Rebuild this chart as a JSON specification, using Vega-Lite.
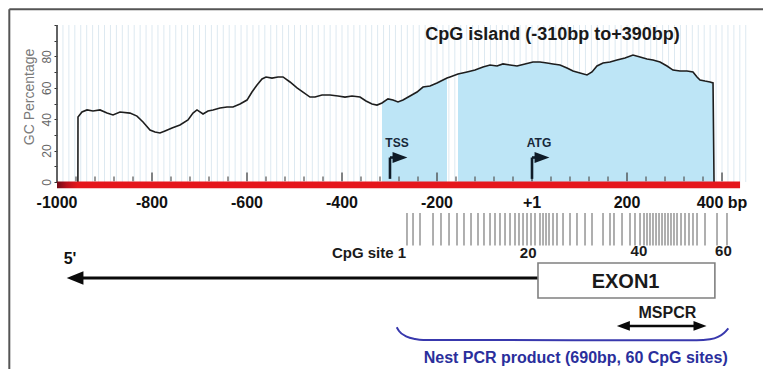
{
  "$schema": "https://vega.github.io/schema/vega-lite/v6.json",
  "width": 706,
  "height": 344,
  "autosize": {"type": "none"},
  "padding": {"left": 57, "top": 25, "right": 0, "bottom": 0},
  "background": "#ffffff",
  "config": {"view": {"stroke": null}, "font": "Liberation Sans"},
  "resolve": {"axis": {"x": "independent", "y": "independent"}},
  "datasets": {
    "gc": [
      {"bp": -956, "gc": 0}, {"bp": -955.8, "gc": 41.4}, {"bp": -947.4, "gc": 44.6}, {"bp": -936.8, "gc": 45.9}, {"bp": -924.2, "gc": 45.2},
      {"bp": -909.5, "gc": 45.9}, {"bp": -894.7, "gc": 43.9}, {"bp": -882.1, "gc": 42.7}, {"bp": -867.4, "gc": 44.6}, {"bp": -846.3, "gc": 43.9},
      {"bp": -831.6, "gc": 42.0}, {"bp": -818.9, "gc": 38.2}, {"bp": -804.2, "gc": 33.1}, {"bp": -793.7, "gc": 31.8}, {"bp": -783.2, "gc": 31.2},
      {"bp": -772.6, "gc": 32.5}, {"bp": -757.9, "gc": 34.4}, {"bp": -741.1, "gc": 36.3}, {"bp": -724.2, "gc": 39.5}, {"bp": -713.7, "gc": 43.9},
      {"bp": -705.3, "gc": 45.9}, {"bp": -692.6, "gc": 43.3}, {"bp": -682.1, "gc": 45.2}, {"bp": -671.6, "gc": 45.9}, {"bp": -656.8, "gc": 47.1},
      {"bp": -642.1, "gc": 47.8}, {"bp": -629.5, "gc": 47.8}, {"bp": -614.7, "gc": 49.7}, {"bp": -600, "gc": 52.2}, {"bp": -589.5, "gc": 57.3},
      {"bp": -578.9, "gc": 61.8}, {"bp": -568.4, "gc": 65.6}, {"bp": -560, "gc": 66.9}, {"bp": -547.4, "gc": 66.2}, {"bp": -534.7, "gc": 66.9},
      {"bp": -524.2, "gc": 66.9}, {"bp": -509.5, "gc": 63.7}, {"bp": -494.7, "gc": 59.9}, {"bp": -482.1, "gc": 57.3}, {"bp": -467.4, "gc": 54.1},
      {"bp": -456.8, "gc": 54.1}, {"bp": -442.1, "gc": 55.4}, {"bp": -425.3, "gc": 55.4}, {"bp": -408.4, "gc": 54.8}, {"bp": -393.7, "gc": 54.1},
      {"bp": -378.9, "gc": 54.8}, {"bp": -362.1, "gc": 54.1}, {"bp": -349.5, "gc": 51.6}, {"bp": -336.8, "gc": 49.7}, {"bp": -326.3, "gc": 49.0},
      {"bp": -315.8, "gc": 50.3}, {"bp": -303.2, "gc": 52.9}, {"bp": -292.6, "gc": 52.2}, {"bp": -282.1, "gc": 51.0}, {"bp": -271.6, "gc": 52.2},
      {"bp": -256.8, "gc": 54.8}, {"bp": -242.1, "gc": 57.3}, {"bp": -229.5, "gc": 60.5}, {"bp": -214.7, "gc": 61.1}, {"bp": -200, "gc": 63.1},
      {"bp": -187.4, "gc": 65.0}, {"bp": -178.9, "gc": 66.2}, {"bp": -172.6, "gc": 66.9}, {"bp": -155.8, "gc": 68.8}, {"bp": -136.8, "gc": 70.1},
      {"bp": -120, "gc": 71.3}, {"bp": -103.2, "gc": 73.2}, {"bp": -88.4, "gc": 74.5}, {"bp": -73.7, "gc": 73.9}, {"bp": -61.1, "gc": 75.2},
      {"bp": -46.3, "gc": 74.5}, {"bp": -31.6, "gc": 73.9}, {"bp": -14.7, "gc": 75.2}, {"bp": 2.1, "gc": 76.4}, {"bp": 16.8, "gc": 76.4},
      {"bp": 31.6, "gc": 75.8}, {"bp": 44.2, "gc": 75.2}, {"bp": 58.9, "gc": 74.5}, {"bp": 73.7, "gc": 72.6}, {"bp": 86.3, "gc": 70.7},
      {"bp": 101.1, "gc": 69.4}, {"bp": 115.8, "gc": 68.2}, {"bp": 126.3, "gc": 70.1}, {"bp": 136.8, "gc": 73.9}, {"bp": 149.5, "gc": 75.8},
      {"bp": 164.2, "gc": 76.4}, {"bp": 178.9, "gc": 77.7}, {"bp": 195.8, "gc": 79.0}, {"bp": 212.6, "gc": 80.9}, {"bp": 227.4, "gc": 79.6},
      {"bp": 242.1, "gc": 78.3}, {"bp": 254.7, "gc": 77.7}, {"bp": 269.5, "gc": 76.4}, {"bp": 284.2, "gc": 73.9}, {"bp": 296.8, "gc": 71.3},
      {"bp": 311.6, "gc": 70.7}, {"bp": 326.3, "gc": 70.7}, {"bp": 338.9, "gc": 70.1}, {"bp": 347.4, "gc": 66.9}, {"bp": 353.7, "gc": 65.0},
      {"bp": 364.2, "gc": 64.3}, {"bp": 374.7, "gc": 63.7}, {"bp": 381.1, "gc": 63.1}, {"bp": 383.2, "gc": 0}
    ],
    "grid": [
      {"bp": -1000}, {"bp": -987.5}, {"bp": -975}, {"bp": -962.5}, {"bp": -950}, {"bp": -937.5}, {"bp": -925}, {"bp": -912.5}, {"bp": -900}, {"bp": -887.5},
      {"bp": -875}, {"bp": -862.5}, {"bp": -850}, {"bp": -837.5}, {"bp": -825}, {"bp": -812.5}, {"bp": -800}, {"bp": -787.5}, {"bp": -775}, {"bp": -762.5},
      {"bp": -750}, {"bp": -737.5}, {"bp": -725}, {"bp": -712.5}, {"bp": -700}, {"bp": -687.5}, {"bp": -675}, {"bp": -662.5}, {"bp": -650}, {"bp": -637.5},
      {"bp": -625}, {"bp": -612.5}, {"bp": -600}, {"bp": -587.5}, {"bp": -575}, {"bp": -562.5}, {"bp": -550}, {"bp": -537.5}, {"bp": -525}, {"bp": -512.5},
      {"bp": -500}, {"bp": -487.5}, {"bp": -475}, {"bp": -462.5}, {"bp": -450}, {"bp": -437.5}, {"bp": -425}, {"bp": -412.5}, {"bp": -400}, {"bp": -387.5},
      {"bp": -375}, {"bp": -362.5}, {"bp": -350}, {"bp": -337.5}, {"bp": -325}, {"bp": -312.5}, {"bp": -300}, {"bp": -287.5}, {"bp": -275}, {"bp": -262.5},
      {"bp": -250}, {"bp": -237.5}, {"bp": -225}, {"bp": -212.5}, {"bp": -200}, {"bp": -187.5}, {"bp": -175}, {"bp": -162.5}, {"bp": -150}, {"bp": -137.5},
      {"bp": -125}, {"bp": -112.5}, {"bp": -100}, {"bp": -87.5}, {"bp": -75}, {"bp": -62.5}, {"bp": -50}, {"bp": -37.5}, {"bp": -25}, {"bp": -12.5},
      {"bp": 0}, {"bp": 12.5}, {"bp": 25}, {"bp": 37.5}, {"bp": 50}, {"bp": 62.5}, {"bp": 75}, {"bp": 87.5}, {"bp": 100}, {"bp": 112.5},
      {"bp": 125}, {"bp": 137.5}, {"bp": 150}, {"bp": 162.5}, {"bp": 175}, {"bp": 187.5}, {"bp": 200}, {"bp": 212.5}, {"bp": 225}, {"bp": 237.5},
      {"bp": 250}, {"bp": 262.5}, {"bp": 275}, {"bp": 287.5}, {"bp": 300}, {"bp": 312.5}, {"bp": 325}, {"bp": 337.5}, {"bp": 350}, {"bp": 362.5},
      {"bp": 375}, {"bp": 387.5}, {"bp": 400}, {"bp": 412.5}, {"bp": 425}, {"bp": 437.5}, {"bp": 450}
    ],
    "ticks": [
      {"bp": -960, "major": false}, {"bp": -920, "major": false}, {"bp": -880, "major": false}, {"bp": -840, "major": false}, {"bp": -800, "major": true},
      {"bp": -760, "major": false}, {"bp": -720, "major": false}, {"bp": -680, "major": false}, {"bp": -640, "major": false}, {"bp": -600, "major": true},
      {"bp": -560, "major": false}, {"bp": -520, "major": false}, {"bp": -480, "major": false}, {"bp": -440, "major": false}, {"bp": -400, "major": true},
      {"bp": -360, "major": false}, {"bp": -320, "major": false}, {"bp": -280, "major": false}, {"bp": -240, "major": false}, {"bp": -200, "major": true},
      {"bp": -160, "major": false}, {"bp": -120, "major": false}, {"bp": -80, "major": false}, {"bp": -40, "major": false}, {"bp": 0, "major": true},
      {"bp": 40, "major": false}, {"bp": 80, "major": false}, {"bp": 120, "major": false}, {"bp": 160, "major": false}, {"bp": 200, "major": true},
      {"bp": 240, "major": false}, {"bp": 280, "major": false}, {"bp": 320, "major": false}, {"bp": 360, "major": false}, {"bp": 400, "major": true}
    ],
    "sites": [
      {"site": 1, "bp": -263.2}, {"site": 2, "bp": -250.5}, {"site": 3, "bp": -235.8}, {"site": 4, "bp": -208.4}, {"site": 5, "bp": -191.6},
      {"site": 6, "bp": -174.7}, {"site": 7, "bp": -157.9}, {"site": 8, "bp": -143.2}, {"site": 9, "bp": -128.4}, {"site": 10, "bp": -113.7},
      {"site": 11, "bp": -101.1}, {"site": 12, "bp": -88.4}, {"site": 13, "bp": -77.9}, {"site": 14, "bp": -67.4}, {"site": 15, "bp": -56.8},
      {"site": 16, "bp": -46.3}, {"site": 17, "bp": -35.8}, {"site": 18, "bp": -27.4}, {"site": 19, "bp": -18.9}, {"site": 20, "bp": -10.5},
      {"site": 21, "bp": -2.1}, {"site": 22, "bp": 6.3}, {"site": 23, "bp": 16.8}, {"site": 24, "bp": 23.2}, {"site": 25, "bp": 29.5},
      {"site": 26, "bp": 35.8}, {"site": 27, "bp": 44.2}, {"site": 28, "bp": 52.6}, {"site": 29, "bp": 65.3}, {"site": 30, "bp": 80.0},
      {"site": 31, "bp": 94.7}, {"site": 32, "bp": 111.6}, {"site": 33, "bp": 126.3}, {"site": 34, "bp": 149.5}, {"site": 35, "bp": 164.2},
      {"site": 36, "bp": 172.6}, {"site": 37, "bp": 189.5}, {"site": 38, "bp": 206.3}, {"site": 39, "bp": 216.8}, {"site": 40, "bp": 227.4},
      {"site": 41, "bp": 235.8}, {"site": 42, "bp": 242.1}, {"site": 43, "bp": 248.4}, {"site": 44, "bp": 254.7}, {"site": 45, "bp": 261.1},
      {"site": 46, "bp": 267.4}, {"site": 47, "bp": 273.7}, {"site": 48, "bp": 280.0}, {"site": 49, "bp": 286.3}, {"site": 50, "bp": 292.6},
      {"site": 51, "bp": 298.9}, {"site": 52, "bp": 305.3}, {"site": 53, "bp": 313.7}, {"site": 54, "bp": 322.1}, {"site": 55, "bp": 330.5},
      {"site": 56, "bp": 338.9}, {"site": 57, "bp": 347.4}, {"site": 58, "bp": 364.2}, {"site": 59, "bp": 389.5}, {"site": 60, "bp": 410.5}
    ],
    "brace": [
      {"bp": -284.8, "v": -92.5}, {"bp": -280, "v": -94.9}, {"bp": -263.8, "v": -98.5}, {"bp": -246.3, "v": -100}, {"bp": -228.8, "v": -100.6},
      {"bp": 346.7, "v": -100.8}, {"bp": 374.7, "v": -100.2}, {"bp": 391.6, "v": -98.7}, {"bp": 404.2, "v": -96.2}, {"bp": 413.3, "v": -93.2}
    ]
  },
  "layer": [
    {
      "data": {"values": [{"edge": "top", "bp": -1100.4, "bp2": 486.3, "v": 110, "v2": 110}, {"edge": "left", "bp": -1100.4, "bp2": -1100.4, "v": 110, "v2": -119.1}]},
      "mark": {"type": "rule", "color": "#555555", "strokeWidth": 2},
      "encoding": {
        "x": {"field": "bp", "type": "quantitative", "scale": {"domain": [-1000, 486.3], "nice": false, "zero": false}, "axis": null},
        "x2": {"field": "bp2"},
        "y": {"field": "v", "type": "quantitative", "scale": {"domain": [-119.1, 100], "nice": false, "zero": false}, "axis": null},
        "y2": {"field": "v2"}
      }
    },
    {
      "data": {"name": "grid"},
      "mark": {"type": "rule", "color": "#dde9f1", "strokeWidth": 1},
      "encoding": {
        "x": {"field": "bp", "type": "quantitative", "scale": {"domain": [-1000, 486.3], "nice": false, "zero": false}, "axis": null},
        "y": {"datum": 0, "type": "quantitative", "scale": {"domain": [-119.1, 100], "nice": false, "zero": false}, "axis": null},
        "y2": {"datum": 100}
      }
    },
    {
      "data": {"name": "gc"},
      "transform": [{"filter": "datum.bp >= -316 && datum.bp <= -178.9"}],
      "mark": {"type": "area", "color": "#bde5f6"},
      "encoding": {
        "x": {"field": "bp", "type": "quantitative", "scale": {"domain": [-1000, 486.3], "nice": false, "zero": false}, "axis": null},
        "y": {"field": "gc", "type": "quantitative", "scale": {"domain": [-119.1, 100], "nice": false, "zero": false}, "axis": null},
        "y2": {"datum": 0}
      }
    },
    {
      "data": {"name": "gc"},
      "transform": [{"filter": "datum.bp >= -156 && datum.bp <= 384"}],
      "mark": {"type": "area", "color": "#bde5f6"},
      "encoding": {
        "x": {"field": "bp", "type": "quantitative", "scale": {"domain": [-1000, 486.3], "nice": false, "zero": false}, "axis": null},
        "y": {"field": "gc", "type": "quantitative", "scale": {"domain": [-119.1, 100], "nice": false, "zero": false}, "axis": null},
        "y2": {"datum": 0}
      }
    },
    {
      "data": {"name": "gc"},
      "mark": {"type": "line", "color": "#1e1e1e", "strokeWidth": 1.6},
      "encoding": {
        "x": {"field": "bp", "type": "quantitative", "scale": {"domain": [-1000, 486.3], "nice": false, "zero": false}, "axis": null},
        "y": {
          "field": "gc", "type": "quantitative",
          "scale": {"domain": [-119.1, 100], "nice": false, "zero": false},
          "axis": {
            "values": [0, 10, 20, 30, 40, 50, 60, 70, 80, 90, 100],
            "labelExpr": "datum.value % 20 == 0 && datum.value < 100 ? datum.label : ''",
            "title": null, "domain": false, "grid": false, "ticks": true, "tickSize": 3, "tickColor": "#333333",
            "labels": true, "labelAngle": -90, "labelColor": "#666666", "labelFontSize": 12, "labelFont": "Liberation Sans",
            "labelPadding": 1, "labelOverlap": false
          }
        }
      }
    },
    {
      "data": {"values": [{"bp": -1000}]},
      "mark": {"type": "rule", "color": "#333333", "strokeWidth": 1.5},
      "encoding": {
        "x": {"field": "bp", "type": "quantitative", "scale": {"domain": [-1000, 486.3], "nice": false, "zero": false}, "axis": null},
        "y": {"datum": 0, "type": "quantitative", "scale": {"domain": [-119.1, 100], "nice": false, "zero": false}, "axis": null},
        "y2": {"datum": 100}
      }
    },
    {
      "data": {"values": [{"feature": "sequence", "bp": -1000, "bp2": 438}]},
      "mark": {"type": "rect", "color": {"gradient": "linear", "x1": 0, "x2": 1, "y1": 0, "y2": 0, "stops": [{"offset": 0, "color": "#6e0a18"}, {"offset": 0.014, "color": "#b8101c"}, {"offset": 0.03, "color": "#e5161c"}, {"offset": 1, "color": "#e5161c"}]}},
      "encoding": {
        "x": {"field": "bp", "type": "quantitative", "scale": {"domain": [-1000, 486.3], "nice": false, "zero": false}, "axis": null},
        "x2": {"field": "bp2"},
        "y": {"datum": -4, "type": "quantitative", "scale": {"domain": [-119.1, 100], "nice": false, "zero": false}, "axis": null},
        "y2": {"datum": 0.3}
      }
    },
    {
      "data": {"name": "ticks"},
      "transform": [{"filter": "!datum.major"}],
      "mark": {"type": "rule", "color": "#555555", "strokeWidth": 1.2},
      "encoding": {
        "x": {"field": "bp", "type": "quantitative", "scale": {"domain": [-1000, 486.3], "nice": false, "zero": false}, "axis": null},
        "y": {"datum": 0.5, "type": "quantitative", "scale": {"domain": [-119.1, 100], "nice": false, "zero": false}, "axis": null},
        "y2": {"datum": 3.5}
      }
    },
    {
      "data": {"name": "ticks"},
      "transform": [{"filter": "datum.major"}],
      "mark": {"type": "rule", "color": "#444444", "strokeWidth": 1.3},
      "encoding": {
        "x": {"field": "bp", "type": "quantitative", "scale": {"domain": [-1000, 486.3], "nice": false, "zero": false}, "axis": null},
        "y": {"datum": 0.5, "type": "quantitative", "scale": {"domain": [-119.1, 100], "nice": false, "zero": false}, "axis": null},
        "y2": {"datum": 6}
      }
    },
    {
      "data": {"values": [{"site": "TSS", "bp": -299}, {"site": "ATG", "bp": 0}]},
      "layer": [
        {
          "mark": {"type": "rule", "color": "#0f1b27", "strokeWidth": 2.6},
          "encoding": {
            "x": {"field": "bp", "type": "quantitative", "scale": {"domain": [-1000, 486.3], "nice": false, "zero": false}, "axis": null},
            "y": {"datum": 2, "type": "quantitative", "scale": {"domain": [-119.1, 100], "nice": false, "zero": false}, "axis": null},
            "y2": {"datum": 15.6}
          }
        },
        {
          "mark": {"type": "rule", "color": "#0f1b27", "strokeWidth": 2.6, "x2Offset": 6},
          "encoding": {
            "x": {"field": "bp", "type": "quantitative", "scale": {"domain": [-1000, 486.3], "nice": false, "zero": false}, "axis": null},
            "x2": {"field": "bp"},
            "y": {"datum": 15.6, "type": "quantitative", "scale": {"domain": [-119.1, 100], "nice": false, "zero": false}, "axis": null}
          }
        },
        {
          "mark": {"type": "point", "shape": "M-1,-0.75L1,0L-1,0.75Z", "filled": true, "opacity": 1, "color": "#0f1b27", "size": 220, "xOffset": 10},
          "encoding": {
            "x": {"field": "bp", "type": "quantitative", "scale": {"domain": [-1000, 486.3], "nice": false, "zero": false}, "axis": null},
            "y": {"datum": 15.6, "type": "quantitative", "scale": {"domain": [-119.1, 100], "nice": false, "zero": false}, "axis": null}
          }
        },
        {
          "mark": {"type": "text", "font": "Liberation Sans", "fontWeight": "bold", "fontSize": 12, "color": "#17283a", "dx": 7, "baseline": "middle"},
          "encoding": {
            "text": {"field": "site"},
            "x": {"field": "bp", "type": "quantitative", "scale": {"domain": [-1000, 486.3], "nice": false, "zero": false}, "axis": null},
            "y": {"datum": 24.8, "type": "quantitative", "scale": {"domain": [-119.1, 100], "nice": false, "zero": false}, "axis": null}
          }
        }
      ]
    },
    {
      "data": {"values": [{"bp": 43, "v": 93.6, "text": "CpG island (-310bp to+390bp)"}]},
      "mark": {"type": "text", "font": "Liberation Sans", "fontWeight": "bold", "fontSize": 18, "color": "#1a1a1a", "baseline": "middle"},
      "encoding": {
        "text": {"field": "text"},
        "x": {"field": "bp", "type": "quantitative", "scale": {"domain": [-1000, 486.3], "nice": false, "zero": false}, "axis": null},
        "y": {"field": "v", "type": "quantitative", "scale": {"domain": [-119.1, 100], "nice": false, "zero": false}, "axis": null}
      }
    },
    {
      "data": {"values": [{"bp": -1056, "v": 54.2, "text": "GC Percentage"}]},
      "mark": {"type": "text", "font": "Liberation Sans", "fontSize": 14, "color": "#7a7a7a", "angle": 270, "baseline": "middle"},
      "encoding": {
        "text": {"field": "text"},
        "x": {"field": "bp", "type": "quantitative", "scale": {"domain": [-1000, 486.3], "nice": false, "zero": false}, "axis": null},
        "y": {"field": "v", "type": "quantitative", "scale": {"domain": [-119.1, 100], "nice": false, "zero": false}, "axis": null}
      }
    },
    {
      "data": {"values": [
        {"bp": -1000, "label": "-1000"}, {"bp": -800, "label": "-800"}, {"bp": -600, "label": "-600"}, {"bp": -400, "label": "-400"},
        {"bp": -200, "label": "-200"}, {"bp": 0, "label": "+1"}, {"bp": 200, "label": "200"}, {"bp": 400, "label": "400 bp"}
      ]},
      "mark": {"type": "text", "font": "Liberation Sans", "fontWeight": "bold", "fontSize": 16, "color": "#111111", "baseline": "middle"},
      "encoding": {
        "text": {"field": "label"},
        "x": {"field": "bp", "type": "quantitative", "scale": {"domain": [-1000, 486.3], "nice": false, "zero": false}, "axis": null},
        "y": {"datum": -13.5, "type": "quantitative", "scale": {"domain": [-119.1, 100], "nice": false, "zero": false}, "axis": null}
      }
    },
    {
      "data": {"name": "sites"},
      "mark": {"type": "rule", "color": "#7a7a7a", "strokeWidth": 1.6, "opacity": 0.75},
      "encoding": {
        "x": {"field": "bp", "type": "quantitative", "scale": {"domain": [-1000, 486.3], "nice": false, "zero": false}, "axis": null},
        "y": {"datum": -19.7, "type": "quantitative", "scale": {"domain": [-119.1, 100], "nice": false, "zero": false}, "axis": null},
        "y2": {"datum": -40.5}
      }
    },
    {
      "data": {"values": [{"bp": -265, "v": -45, "text": "CpG site 1"}]},
      "mark": {"type": "text", "font": "Liberation Sans", "fontWeight": "bold", "fontSize": 15, "color": "#1a1a1a", "align": "right", "baseline": "middle"},
      "encoding": {
        "text": {"field": "text"},
        "x": {"field": "bp", "type": "quantitative", "scale": {"domain": [-1000, 486.3], "nice": false, "zero": false}, "axis": null},
        "y": {"field": "v", "type": "quantitative", "scale": {"domain": [-119.1, 100], "nice": false, "zero": false}, "axis": null}
      }
    },
    {
      "data": {"values": [{"bp": -8, "v": -45, "text": "20"}, {"bp": 225, "v": -44, "text": "40"}, {"bp": 403, "v": -44, "text": "60"}]},
      "mark": {"type": "text", "font": "Liberation Sans", "fontWeight": "bold", "fontSize": 15, "color": "#1a1a1a", "baseline": "middle"},
      "encoding": {
        "text": {"field": "text"},
        "x": {"field": "bp", "type": "quantitative", "scale": {"domain": [-1000, 486.3], "nice": false, "zero": false}, "axis": null},
        "y": {"field": "v", "type": "quantitative", "scale": {"domain": [-119.1, 100], "nice": false, "zero": false}, "axis": null}
      }
    },
    {
      "data": {"values": [{"feature": "5' strand", "bp": -962, "bp2": 12.6}]},
      "layer": [
        {
          "mark": {"type": "rule", "color": "#0a0a0a", "strokeWidth": 3},
          "encoding": {
            "x": {"field": "bp", "type": "quantitative", "scale": {"domain": [-1000, 486.3], "nice": false, "zero": false}, "axis": null},
            "x2": {"field": "bp2"},
            "y": {"datum": -61.1, "type": "quantitative", "scale": {"domain": [-119.1, 100], "nice": false, "zero": false}, "axis": null}
          }
        },
        {
          "mark": {"type": "point", "shape": "M-1,0L1,-0.8L1,0.8Z", "filled": true, "opacity": 1, "color": "#0a0a0a", "size": 280},
          "encoding": {
            "x": {"field": "bp", "type": "quantitative", "scale": {"domain": [-1000, 486.3], "nice": false, "zero": false}, "axis": null},
            "y": {"datum": -61.1, "type": "quantitative", "scale": {"domain": [-119.1, 100], "nice": false, "zero": false}, "axis": null}
          }
        }
      ]
    },
    {
      "data": {"values": [{"bp": -972.6, "v": -49, "text": "5'"}]},
      "mark": {"type": "text", "font": "Liberation Sans", "fontWeight": "bold", "fontSize": 16, "color": "#111111", "baseline": "middle"},
      "encoding": {
        "text": {"field": "text"},
        "x": {"field": "bp", "type": "quantitative", "scale": {"domain": [-1000, 486.3], "nice": false, "zero": false}, "axis": null},
        "y": {"field": "v", "type": "quantitative", "scale": {"domain": [-119.1, 100], "nice": false, "zero": false}, "axis": null}
      }
    },
    {
      "data": {"values": [{"feature": "EXON1", "bp": 12.6, "bp2": 385}]},
      "mark": {"type": "rect", "fill": "#ffffff", "stroke": "#808080", "strokeWidth": 1.6},
      "encoding": {
        "x": {"field": "bp", "type": "quantitative", "scale": {"domain": [-1000, 486.3], "nice": false, "zero": false}, "axis": null},
        "x2": {"field": "bp2"},
        "y": {"datum": -51.6, "type": "quantitative", "scale": {"domain": [-119.1, 100], "nice": false, "zero": false}, "axis": null},
        "y2": {"datum": -73.9}
      }
    },
    {
      "data": {"values": [{"bp": 197, "v": -63.9, "text": "EXON1"}]},
      "mark": {"type": "text", "font": "Liberation Sans", "fontWeight": "bold", "fontSize": 20, "color": "#1a1a1a", "baseline": "middle"},
      "encoding": {
        "text": {"field": "text"},
        "x": {"field": "bp", "type": "quantitative", "scale": {"domain": [-1000, 486.3], "nice": false, "zero": false}, "axis": null},
        "y": {"field": "v", "type": "quantitative", "scale": {"domain": [-119.1, 100], "nice": false, "zero": false}, "axis": null}
      }
    },
    {
      "data": {"values": [{"bp": 285, "v": -83.6, "text": "MSPCR"}]},
      "mark": {"type": "text", "font": "Liberation Sans", "fontWeight": "bold", "fontSize": 16, "color": "#1a1a1a", "baseline": "middle"},
      "encoding": {
        "text": {"field": "text"},
        "x": {"field": "bp", "type": "quantitative", "scale": {"domain": [-1000, 486.3], "nice": false, "zero": false}, "axis": null},
        "y": {"field": "v", "type": "quantitative", "scale": {"domain": [-119.1, 100], "nice": false, "zero": false}, "axis": null}
      }
    },
    {
      "data": {"values": [{"feature": "MSPCR", "bp": 192.3, "bp2": 353.7}]},
      "layer": [
        {
          "mark": {"type": "rule", "color": "#0a0a0a", "strokeWidth": 2.6},
          "encoding": {
            "x": {"field": "bp", "type": "quantitative", "scale": {"domain": [-1000, 486.3], "nice": false, "zero": false}, "axis": null},
            "x2": {"field": "bp2"},
            "y": {"datum": -91.7, "type": "quantitative", "scale": {"domain": [-119.1, 100], "nice": false, "zero": false}, "axis": null}
          }
        },
        {
          "mark": {"type": "point", "shape": "M-1,0L1,-0.75L1,0.75Z", "filled": true, "opacity": 1, "color": "#0a0a0a", "size": 170},
          "encoding": {
            "x": {"field": "bp", "type": "quantitative", "scale": {"domain": [-1000, 486.3], "nice": false, "zero": false}, "axis": null},
            "y": {"datum": -91.7, "type": "quantitative", "scale": {"domain": [-119.1, 100], "nice": false, "zero": false}, "axis": null}
          }
        },
        {
          "mark": {"type": "point", "shape": "M-1,-0.75L1,0L-1,0.75Z", "filled": true, "opacity": 1, "color": "#0a0a0a", "size": 170},
          "encoding": {
            "x": {"field": "bp2", "type": "quantitative", "scale": {"domain": [-1000, 486.3], "nice": false, "zero": false}, "axis": null},
            "y": {"datum": -91.7, "type": "quantitative", "scale": {"domain": [-119.1, 100], "nice": false, "zero": false}, "axis": null}
          }
        }
      ]
    },
    {
      "data": {"name": "brace"},
      "mark": {"type": "line", "color": "#3838ad", "strokeWidth": 2, "interpolate": "monotone"},
      "encoding": {
        "x": {"field": "bp", "type": "quantitative", "scale": {"domain": [-1000, 486.3], "nice": false, "zero": false}, "axis": null},
        "y": {"field": "v", "type": "quantitative", "scale": {"domain": [-119.1, 100], "nice": false, "zero": false}, "axis": null}
      }
    },
    {
      "data": {"values": [{"bp": 92, "v": -112.3, "text": "Nest PCR product (690bp, 60 CpG sites)"}]},
      "mark": {"type": "text", "font": "Liberation Sans", "fontWeight": "bold", "fontSize": 16, "color": "#2a2f9c", "baseline": "middle"},
      "encoding": {
        "text": {"field": "text"},
        "x": {"field": "bp", "type": "quantitative", "scale": {"domain": [-1000, 486.3], "nice": false, "zero": false}, "axis": null},
        "y": {"field": "v", "type": "quantitative", "scale": {"domain": [-119.1, 100], "nice": false, "zero": false}, "axis": null}
      }
    }
  ]
}
